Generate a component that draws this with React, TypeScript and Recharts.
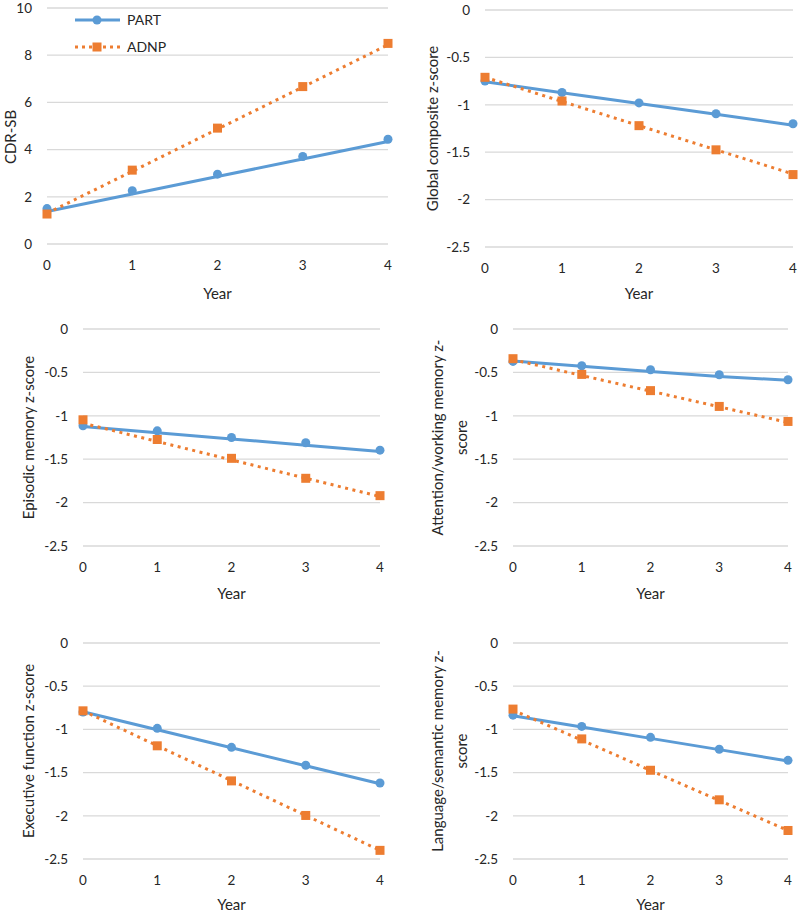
import React from "react";
import {
  CartesianGrid,
  ComposedChart,
  Legend,
  Line,
  XAxis,
  YAxis,
} from "recharts";

const BLUE = "#5B9BD5";
const ORANGE = "#ED7D31";
const TEXT = "#262626";
const FONT = "Lato, 'Noto Sans', sans-serif";

const years = [0, 1, 2, 3, 4];

// CDR-SB
const cdrPartObs = [1.5, 2.26, 2.96, 3.71, 4.44];
const cdrPartFit = [1.38, 2.12, 2.86, 3.6, 4.34];
const cdrAdnpObs = [1.27, 3.13, 4.91, 6.67, 8.5];
const cdrAdnpFit = [1.3, 3.08, 4.87, 6.65, 8.44];

// Global composite
const globalPartObs = [-0.75, -0.87, -0.98, -1.095, -1.2];
const globalPartFit = [-0.757, -0.872, -0.986, -1.1, -1.215];
const globalAdnpObs = [-0.71, -0.96, -1.22, -1.475, -1.736];
const globalAdnpFit = [-0.71, -0.965, -1.22, -1.475, -1.73];

// Episodic memory
const episodicPartObs = [-1.115, -1.173, -1.25, -1.31, -1.396];
const episodicPartFit = [-1.123, -1.195, -1.267, -1.338, -1.41];
const episodicAdnpObs = [-1.046, -1.273, -1.49, -1.72, -1.92];
const episodicAdnpFit = [-1.085, -1.296, -1.508, -1.719, -1.93];

// Attention / working memory
const attentionPartObs = [-0.373, -0.423, -0.469, -0.527, -0.585];
const attentionPartFit = [-0.37, -0.43, -0.49, -0.546, -0.59];
const attentionAdnpObs = [-0.342, -0.523, -0.71, -0.892, -1.065];
const attentionAdnpFit = [-0.354, -0.535, -0.716, -0.896, -1.077];

// Executive function
const execPartObs = [-0.8, -0.988, -1.208, -1.415, -1.62];
const execPartFit = [-0.796, -1.004, -1.213, -1.421, -1.63];
const execAdnpObs = [-0.785, -1.19, -1.596, -1.996, -2.4];
const execAdnpFit = [-0.785, -1.189, -1.593, -1.996, -2.4];

// Language / semantic memory
const langPartObs = [-0.835, -0.965, -1.092, -1.23, -1.358];
const langPartFit = [-0.842, -0.973, -1.104, -1.234, -1.365];
const langAdnpObs = [-0.765, -1.11, -1.473, -1.815, -2.17];
const langAdnpFit = [-0.777, -1.125, -1.474, -1.822, -2.17];

const cdrTicks = [0, 2, 4, 6, 8, 10];
const zTicks = [-2.5, -2, -1.5, -1, -0.5, 0];

const buildRows = (pObs: number[], pFit: number[], aObs: number[], aFit: number[]) =>
  years.map((year, i) => ({
    year,
    partObs: pObs[i],
    partFit: pFit[i],
    adnpObs: aObs[i],
    adnpFit: aFit[i],
  }));

type Panel = {
  left: number;
  top: number;
  height: number;
  yWidth: number;
  mTop: number;
  mRight: number;
  mBottom: number;
  title: string[];
  titleX: number;
  titleDy: number;
  yearDy: number;
  ticks: number[];
  rows: ReturnType<typeof buildRows>;
  legend?: boolean;
};

const panels: Panel[] = [
  {
    left: 0, top: 0, height: 310, yWidth: 47, mTop: 8, mRight: 12, mBottom: 26,
    title: ["CDR-SB"], titleX: 10, titleDy: 11, yearDy: 49, ticks: cdrTicks,
    rows: buildRows(cdrPartObs, cdrPartFit, cdrAdnpObs, cdrAdnpFit), legend: true,
  },
  {
    left: 400, top: 0, height: 310, yWidth: 85, mTop: 10, mRight: 7, mBottom: 23,
    title: ["Global composite z-score"], titleX: 32, titleDy: 0, yearDy: 46, ticks: zTicks,
    rows: buildRows(globalPartObs, globalPartFit, globalAdnpObs, globalAdnpFit),
  },
  {
    left: 0, top: 300, height: 310, yWidth: 83, mTop: 29, mRight: 20, mBottom: 24,
    title: ["Episodic memory z-score"], titleX: 28, titleDy: 0, yearDy: 47, ticks: zTicks,
    rows: buildRows(episodicPartObs, episodicPartFit, episodicAdnpObs, episodicAdnpFit),
  },
  {
    left: 400, top: 300, height: 310, yWidth: 113, mTop: 29, mRight: 12, mBottom: 24,
    title: ["Attention/working memory z-", "score"], titleX: 37, titleDy: 0, yearDy: 47, ticks: zTicks,
    rows: buildRows(attentionPartObs, attentionPartFit, attentionAdnpObs, attentionAdnpFit),
  },
  {
    left: 0, top: 600, height: 314, yWidth: 83, mTop: 43, mRight: 20, mBottom: 15,
    title: ["Executive function z-score"], titleX: 28, titleDy: 0, yearDy: 45, ticks: zTicks,
    rows: buildRows(execPartObs, execPartFit, execAdnpObs, execAdnpFit),
  },
  {
    left: 400, top: 600, height: 314, yWidth: 113, mTop: 43, mRight: 12, mBottom: 15,
    title: ["Language/semantic memory z-", "score"], titleX: 37, titleDy: 0, yearDy: 45, ticks: zTicks,
    rows: buildRows(langPartObs, langPartFit, langAdnpObs, langAdnpFit),
  },
];

const Square = (props: any) => {
  const { cx, cy, index } = props;
  if (cx == null || cy == null) return <g key={`sq-${index}`} />;
  return <rect key={`sq-${index}`} x={cx - 4.5} y={cy - 4.5} width={9} height={9} fill={ORANGE} />;
};

const LegendBox = () => (
  <div style={{ fontFamily: FONT, fontSize: 14, color: TEXT }}>
    <div style={{ display: "flex", alignItems: "center", height: 27 }}>
      <svg width={50} height={12}>
        <line x1={2} y1={6} x2={47} y2={6} stroke={BLUE} strokeWidth={3} />
        <circle cx={24} cy={6} r={4.5} fill={BLUE} />
      </svg>
      <span style={{ marginLeft: 4 }}>PART</span>
    </div>
    <div style={{ display: "flex", alignItems: "center", height: 27 }}>
      <svg width={50} height={12}>
        <line x1={2} y1={6} x2={47} y2={6} stroke={ORANGE} strokeWidth={3} strokeDasharray="3 4" />
        <rect x={19.5} y={1.5} width={9} height={9} fill={ORANGE} />
      </svg>
      <span style={{ marginLeft: 4 }}>ADNP</span>
    </div>
  </div>
);

const Chart = ({ p }: { p: Panel }) => {
  const yTitle = (props: any) => {
    const vb = props.viewBox;
    const cy = vb.y + vb.height / 2 + p.titleDy;
    const n = p.title.length;
    return (
      <g>
        {p.title.map((t, i) => {
          const x = p.titleX + (i - (n - 1) / 2) * 24 + (n > 1 ? 12 : 0);
          return (
            <text
              key={i}
              x={x}
              y={cy}
              transform={`rotate(-90, ${x}, ${cy})`}
              textAnchor="middle"
              dominantBaseline="central"
              fontFamily={FONT}
              fontSize={15}
              fill={TEXT}
            >
              {t}
            </text>
          );
        })}
      </g>
    );
  };

  const xTitle = (props: any) => {
    const vb = props.viewBox;
    return (
      <text
        x={vb.x + vb.width / 2}
        y={vb.y + p.yearDy}
        textAnchor="middle"
        dominantBaseline="central"
        fontFamily={FONT}
        fontSize={15}
        fill={TEXT}
      >
        Year
      </text>
    );
  };

  return (
    <div style={{ position: "absolute", left: p.left, top: p.top }}>
      <ComposedChart
        width={400}
        height={p.height}
        data={p.rows}
        margin={{ top: p.mTop, right: p.mRight, left: 0, bottom: p.mBottom }}
      >
        <CartesianGrid vertical={false} stroke="#D9D9D9" strokeWidth={1.3} />
        <XAxis
          dataKey="year"
          type="number"
          domain={[0, 4]}
          ticks={years}
          axisLine={false}
          tickLine={false}
          height={40}
          tickMargin={10}
          tick={{ fontFamily: FONT, fontSize: 13.5, fill: TEXT }}
          label={{ content: xTitle }}
        />
        <YAxis
          type="number"
          domain={[p.ticks[0], p.ticks[p.ticks.length - 1]]}
          ticks={p.ticks}
          axisLine={false}
          tickLine={false}
          width={p.yWidth}
          tickMargin={9}
          tick={{ fontFamily: FONT, fontSize: 13.5, fill: TEXT }}
          label={{ content: yTitle }}
        />
        <Line
          dataKey="partFit"
          stroke={BLUE}
          strokeWidth={3}
          dot={false}
          activeDot={false}
          isAnimationActive={false}
        />
        <Line
          dataKey="partObs"
          stroke="none"
          dot={{ r: 4.5, fill: BLUE, stroke: BLUE, strokeWidth: 0 }}
          activeDot={false}
          isAnimationActive={false}
        />
        <Line
          dataKey="adnpFit"
          stroke={ORANGE}
          strokeWidth={3}
          strokeDasharray="3 4.5"
          dot={false}
          activeDot={false}
          isAnimationActive={false}
        />
        <Line
          dataKey="adnpObs"
          stroke="none"
          dot={Square}
          activeDot={false}
          isAnimationActive={false}
        />
        {p.legend && (
          <Legend
            layout="vertical"
            align="center"
            verticalAlign="middle"
            wrapperStyle={{ top: 6, left: 73, width: 130 }}
            content={() => <LegendBox />}
          />
        )}
      </ComposedChart>
    </div>
  );
}

export default function App() {
  return (
    <div style={{ position: "relative", width: 800, height: 914, background: "#fff" }}>
      <style>{"body{margin:0}"}</style>
      {panels.map((p, i) => (
        <Chart key={i} p={p} />
      ))}
    </div>
  );
}
